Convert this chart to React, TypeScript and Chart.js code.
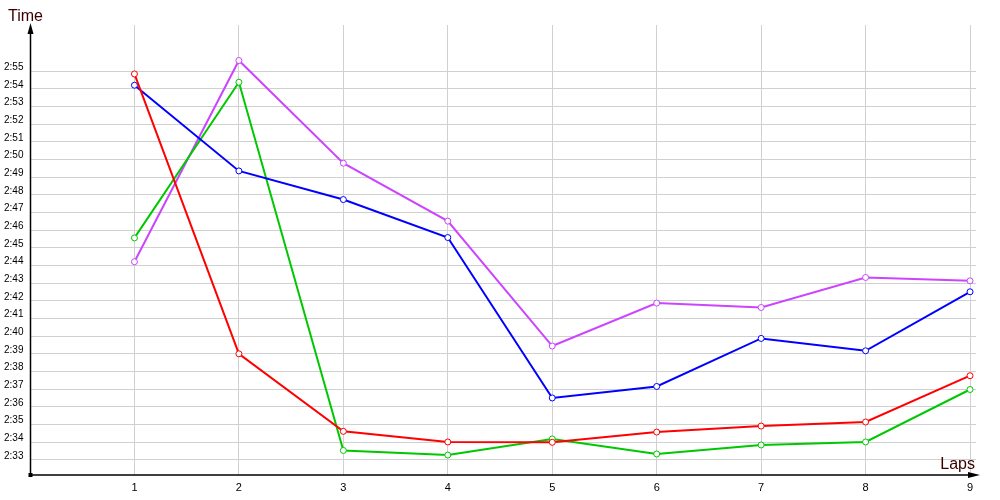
import React, { useEffect, useRef } from "react";
import { Chart, registerables } from "chart.js";

Chart.register(...registerables);

// Laps (x categories)
const laps = [1, 2, 3, 4, 5, 6, 7, 8, 9];

// Y tick labels (lap times, m:ss)
const yTickLabels = [
  "2:33", "2:34", "2:35", "2:36", "2:37", "2:38", "2:39", "2:40", "2:41", "2:42", "2:43",
  "2:44", "2:45", "2:46", "2:47", "2:48", "2:49", "2:50", "2:51", "2:52", "2:53", "2:54", "2:55",
];

// Lap times in seconds
const redTimes = [174.85, 159.01, 154.62, 154.02, 154.0, 154.58, 154.92, 155.15, 157.77];
const blueTimes = [174.21, 169.36, 167.74, 165.59, 156.51, 157.16, 159.88, 159.18, 162.52];
const greenTimes = [165.57, 174.38, 153.54, 153.28, 154.19, 153.34, 153.85, 154.02, 156.99];
const magentaTimes = [164.22, 175.61, 169.8, 166.52, 159.45, 161.88, 161.63, 163.33, 163.14];

const seriesNames = ["Red", "Blue", "Green", "Magenta"];
const seriesColors = ["#ff0000", "#0000ff", "#00c800", "#cc44ff"];

const toSec = (s: string) => {
  const [m, ss] = s.split(":");
  return Number(m) * 60 + Number(ss);
};
const fmt = (v: number) => `${Math.floor(v / 60)}:${String(Math.round(v % 60)).padStart(2, "0")}`;

const yTickValues = yTickLabels.map(toSec);

const axesPlugin = {
  id: "axesArrows",
  afterDraw(chart: any) {
    const { ctx, chartArea } = chart;
    const left = chartArea.left + 0.5;
    const bottom = chartArea.bottom;
    ctx.save();
    ctx.strokeStyle = "#000";
    ctx.fillStyle = "#000";
    ctx.lineWidth = 1.5;
    // y axis
    ctx.beginPath();
    ctx.moveTo(left, bottom);
    ctx.lineTo(left, 30);
    ctx.stroke();
    ctx.beginPath();
    ctx.moveTo(left, 23);
    ctx.lineTo(left - 3, 34);
    ctx.lineTo(left + 3, 34);
    ctx.closePath();
    ctx.fill();
    // x axis
    ctx.beginPath();
    ctx.moveTo(left, bottom);
    ctx.lineTo(972, bottom);
    ctx.stroke();
    ctx.beginPath();
    ctx.moveTo(980, bottom);
    ctx.lineTo(968, bottom - 3);
    ctx.lineTo(968, bottom + 3);
    ctx.closePath();
    ctx.fill();
    // origin square
    ctx.fillRect(left - 2, bottom - 2, 4, 4);
    // axis titles
    ctx.fillStyle = "#3a0000";
    ctx.font = "16px 'Liberation Sans', Arial, sans-serif";
    ctx.textBaseline = "alphabetic";
    ctx.textAlign = "left";
    ctx.fillText("Time", 8, 21);
    ctx.textAlign = "right";
    ctx.fillText("Laps", 975, 469);
    ctx.restore();
  },
};

export default function App() {
  const ref = useRef<HTMLCanvasElement>(null);
  useEffect(() => {
    if (!ref.current) return;
    const allTimes = [redTimes, blueTimes, greenTimes, magentaTimes];
    const chart = new Chart(ref.current, {
      type: "line",
      data: {
        datasets: allTimes.map((arr, i) => ({
          label: seriesNames[i],
          data: arr.map((v, j) => ({ x: laps[j], y: v })),
          borderColor: seriesColors[i],
          backgroundColor: "#ffffff",
          pointBackgroundColor: "#ffffff",
          pointBorderColor: seriesColors[i],
          pointBorderWidth: 1,
          pointRadius: 3,
          borderWidth: 2,
          tension: 0,
          fill: false,
        })),
      },
      options: {
        responsive: false,
        animation: false,
        events: [],
        layout: { padding: { left: 4, top: 25, right: 24, bottom: 0 } },
        plugins: { legend: { display: false }, tooltip: { enabled: false } },
        scales: {
          x: {
            type: "linear",
            min: 0,
            max: 9.057,
            afterBuildTicks: (scale: any) => {
              scale.ticks = laps.map((v) => ({ value: v }));
            },
            afterFit: (scale: any) => {
              scale.height = 25;
            },
            grid: { color: "#d0d0d0", lineWidth: 1, drawTicks: false },
            border: { display: false },
            ticks: {
              padding: 6,
              color: "#000",
              font: { family: "'Liberation Sans', Arial, sans-serif", size: 11 },
              callback: (v: any) => String(v),
              maxRotation: 0,
              autoSkip: false,
            },
          },
          y: {
            type: "linear",
            min: 152.15,
            max: 177.62,
            afterBuildTicks: (scale: any) => {
              scale.ticks = yTickValues.map((v) => ({ value: v }));
            },
            afterFit: (scale: any) => {
              scale.width = 26;
            },
            grid: { color: "#d0d0d0", lineWidth: 1, drawTicks: false },
            border: { display: false },
            ticks: {
              crossAlign: "far",
              labelOffset: -4,
              padding: 0,
              color: "#000",
              font: { family: "'Liberation Sans', Arial, sans-serif", size: 10 },
              callback: (v: any) => fmt(Number(v)),
              autoSkip: false,
            },
          },
        },
      },
      plugins: [axesPlugin],
    } as any);
    return () => chart.destroy();
  }, []);
  return (
    <div style={{ position: "absolute", left: 0, top: 0, width: 1000, height: 500, background: "#fff" }}>
      <canvas ref={ref} width={1000} height={500} style={{ display: "block" }} />
    </div>
  );
}
